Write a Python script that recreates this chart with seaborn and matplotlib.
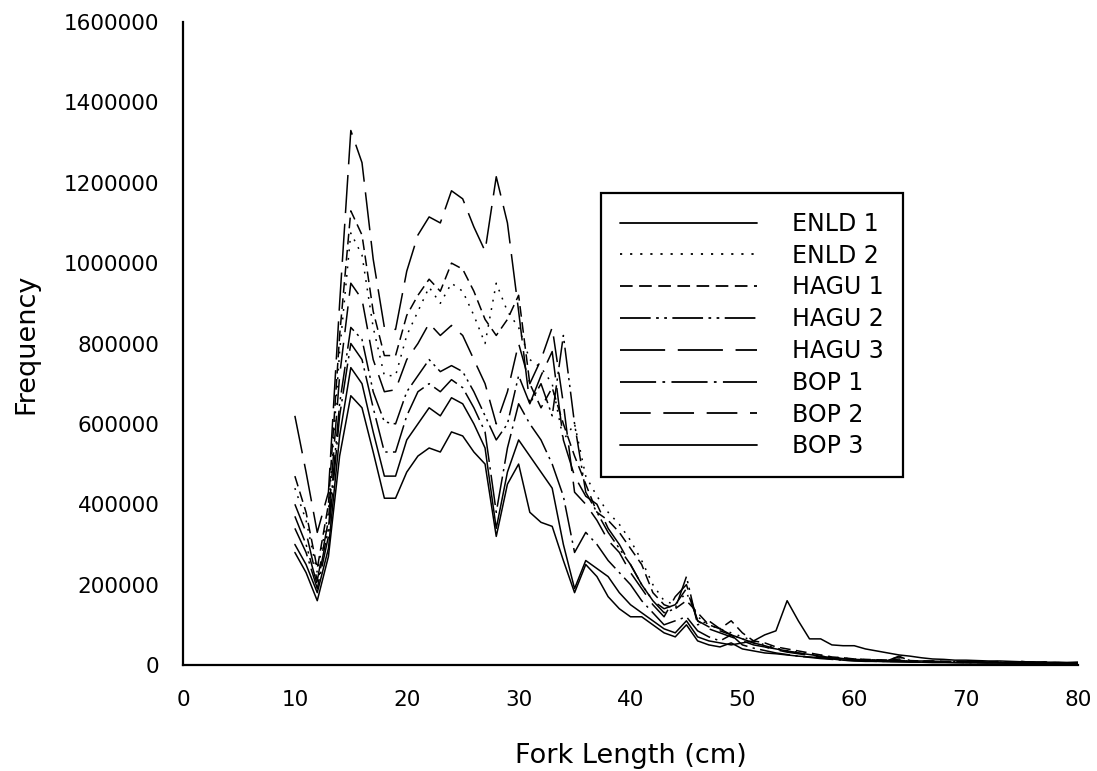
import numpy as np
import pandas as pd
import matplotlib
matplotlib.use("Agg")
import matplotlib.pyplot as plt
import seaborn as sns

# Fork length (cm)
fork_length = list(range(10, 81))

# Frequencies (thousands)
enld1 = [300, 250, 180, 290, 570, 740, 700, 580, 470, 470,
         560, 600, 640, 620, 665, 650, 600, 540, 340, 480,
         560, 520, 480, 440, 300, 190, 260, 240, 220, 180,
         150, 130, 110, 90, 80, 110, 70, 60, 55, 50,
         55, 60, 75, 85, 160, 110, 65, 65, 50, 48,
         48, 40, 35, 30, 25, 22, 18, 15, 14, 12,
         12, 11, 10, 10, 9, 8, 8, 7, 7, 6, 6]
enld2 = [440, 360, 230, 380, 780, 1075, 1020, 840, 720, 720,
         820, 880, 940, 900, 950, 930, 870, 800, 950, 880,
         840, 760, 740, 700, 560, 600, 470, 420, 380, 350,
         310, 260, 200, 160, 150, 180, 120, 100, 90, 80,
         70, 60, 50, 42, 36, 32, 28, 24, 20, 17,
         15, 13, 12, 11, 10, 10, 9, 9, 8, 8,
         8, 7, 7, 7, 6, 6, 6, 5, 6, 5, 5]
hagu1 = [470, 380, 240, 400, 820, 1130, 1070, 880, 770, 770,
         870, 920, 960, 930, 1000, 985, 930, 860, 820, 860,
         920, 700, 640, 690, 600, 520, 450, 380, 360, 330,
         290, 250, 180, 150, 140, 160, 130, 100, 90, 110,
         80, 60, 55, 45, 40, 35, 30, 25, 20, 18,
         15, 14, 13, 12, 20, 11, 10, 10, 9, 9,
         8, 8, 8, 7, 7, 9, 6, 6, 6, 5, 6]
hagu2 = [370, 300, 200, 340, 650, 840, 810, 680, 605, 600,
         680, 720, 760, 730, 745, 730, 680, 620, 560, 600,
         720, 650, 700, 620, 820, 600, 430, 380, 330, 290,
         250, 200, 160, 130, 140, 220, 100, 110, 90, 75,
         65, 55, 48, 40, 34, 30, 26, 22, 19, 16,
         14, 13, 12, 11, 22, 10, 9, 9, 8, 8,
         7, 7, 7, 6, 6, 6, 5, 5, 5, 5, 4]
hagu3 = [620, 480, 330, 430, 900, 1330, 1250, 1010, 840, 835,
         980, 1070, 1115, 1100, 1180, 1160, 1090, 1030, 1215, 1100,
         880, 650, 720, 780, 560, 470, 420, 400, 340, 300,
         250, 200, 160, 140, 150, 190, 110, 95, 85, 75,
         65, 55, 45, 40, 35, 30, 25, 22, 18, 15,
         14, 12, 12, 11, 15, 10, 10, 9, 9, 8,
         8, 8, 7, 9, 7, 7, 6, 8, 6, 6, 7]
bop1 = [340, 280, 190, 320, 620, 800, 760, 640, 530, 530,
        620, 680, 700, 680, 710, 690, 640, 580, 380, 540,
        650, 600, 560, 500, 420, 280, 330, 300, 260, 230,
        200, 160, 130, 100, 110, 120, 85, 70, 60, 75,
        50, 42, 36, 30, 26, 22, 19, 16, 14, 12,
        11, 10, 9, 9, 8, 8, 7, 7, 7, 6,
        6, 6, 5, 5, 5, 5, 4, 4, 4, 4, 4]
bop2 = [400, 330, 210, 360, 720, 950, 910, 760, 680, 685,
        760, 800, 850, 820, 845, 820, 760, 700, 600, 680,
        800, 700, 760, 840, 650, 430, 400, 360, 310, 280,
        230, 190, 150, 120, 170, 200, 110, 90, 80, 70,
        60, 50, 45, 38, 32, 28, 24, 20, 17, 15,
        13, 12, 11, 10, 12, 9, 9, 8, 8, 7,
        7, 7, 6, 6, 6, 5, 5, 5, 5, 4, 5]
bop3 = [280, 230, 160, 270, 520, 670, 640, 530, 415, 415,
        480, 520, 540, 530, 580, 570, 530, 500, 320, 450,
        500, 380, 355, 345, 260, 180, 250, 220, 170, 140,
        120, 120, 100, 80, 70, 100, 60, 50, 45, 55,
        40, 35, 30, 28, 25, 22, 20, 18, 15, 12,
        10, 9, 9, 8, 8, 7, 7, 6, 6, 6,
        5, 5, 5, 5, 4, 4, 4, 4, 4, 3, 3]

series_names = ["ENLD 1", "ENLD 2", "HAGU 1", "HAGU 2", "HAGU 3", "BOP 1", "BOP 2", "BOP 3"]
series_values = [enld1, enld2, hagu1, hagu2, hagu3, bop1, bop2, bop3]

x_ticks = [0, 10, 20, 30, 40, 50, 60, 70, 80]
y_ticks = [0, 200000, 400000, 600000, 800000, 1000000, 1200000, 1400000, 1600000]

rows = []
for name, vals in zip(series_names, series_values):
    for xv, yv in zip(fork_length, vals):
        rows.append({"Fork Length": xv, "Frequency": yv * 1000, "Series": name})
df = pd.DataFrame(rows)

line_styles = {
    "ENLD 1": "-",
    "ENLD 2": (0, (1.2, 4.4)),
    "HAGU 1": (0, (7, 3.6)),
    "HAGU 2": (0, (17, 3, 1.5, 3, 1.5, 3)),
    "HAGU 3": (0, (25, 7)),
    "BOP 1": (0, (20, 3.5, 1.5, 3.5)),
    "BOP 2": (0, (17, 7)),
    "BOP 3": "-",
}

sns.set_style("white")
plt.rcParams["font.family"] = ["DejaVu Sans"]
plt.rcParams["text.color"] = "black"
plt.rcParams["axes.labelcolor"] = "black"

fig = plt.figure(figsize=(10.97, 7.71), dpi=100)
ax = fig.add_axes([183 / 1097, 1 - 665 / 771, (1078 - 183) / 1097, (665 - 22) / 771])

for name in series_names:
    sub = df[df["Series"] == name]
    sns.lineplot(data=sub, x="Fork Length", y="Frequency", ax=ax, color="black",
                 linewidth=1.1, label=name, estimator=None)
    ax.lines[-1].set_linestyle(line_styles[name])

ax.set_xlim(0, 80)
ax.set_ylim(0, 1600000)
ax.set_xticks(x_ticks)
ax.set_yticks(y_ticks)
ax.set_xticklabels([str(t) for t in x_ticks])
ax.set_yticklabels([str(t) for t in y_ticks])
ax.tick_params(axis="both", direction="out", length=7, width=1.5, labelsize=15.5,
               colors="black")
ax.tick_params(axis="x", pad=11)
ax.tick_params(axis="y", pad=10)

for side in ["top", "right"]:
    ax.spines[side].set_visible(False)
for side in ["left", "bottom"]:
    ax.spines[side].set_linewidth(1.6)
    ax.spines[side].set_color("black")

ax.set_xlabel("Fork Length (cm)", fontsize=19.5, labelpad=24, color="black")
ax.set_ylabel("Frequency", fontsize=19.5, labelpad=18, color="black")

handles, labels = ax.get_legend_handles_labels()
leg = ax.legend(handles, labels, loc="upper left",
                bbox_to_anchor=((601 - 183) / 895, (665 - 193) / 643),
                borderaxespad=0, frameon=True, fancybox=False, fontsize=17,
                handlelength=5.8, handletextpad=1.5, labelspacing=0.33,
                borderpad=0.8, edgecolor="black", framealpha=1)
leg.get_frame().set_linewidth(1.6)
for lh in leg.get_lines():
    lh.set_linewidth(1.3)
for t in leg.get_texts():
    t.set_color("black")

fig.savefig("out.png", dpi=100)
